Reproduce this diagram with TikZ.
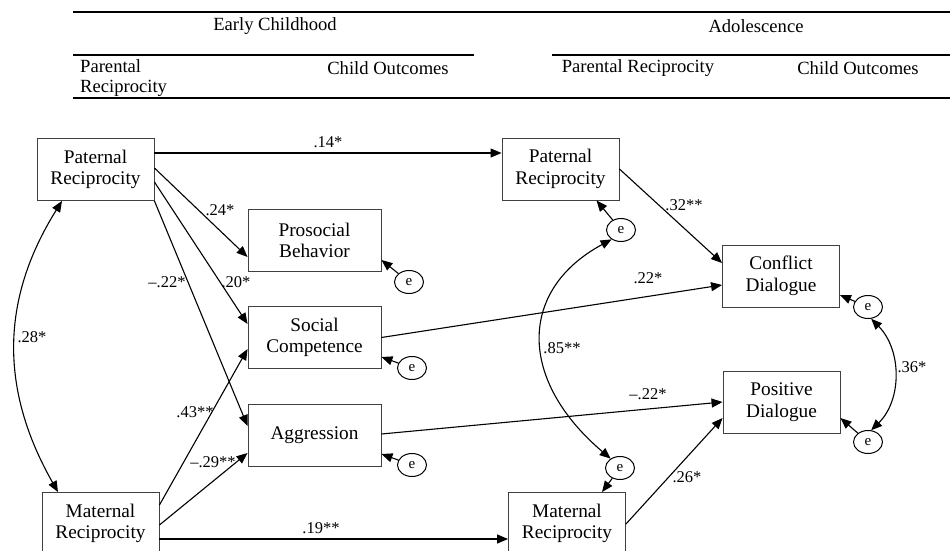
\documentclass[tikz,border=0pt]{standalone}
\usepackage{fontspec}
\setmainfont{Liberation Serif}
\usetikzlibrary{arrows.meta,shapes.geometric,calc}
\begin{document}
\begin{tikzpicture}[x=1pt,y=-1pt,
 box/.style={draw=black!75,line width=0.9pt,minimum width=117pt,minimum height=62pt,inner sep=0pt,align=center,font=\fontsize{19.3}{21.5}\selectfont},
 wbox/.style={box,minimum width=133pt},
 err/.style={draw,ellipse,line width=1pt,minimum width=29pt,minimum height=23pt,inner sep=0pt,font=\fontsize{15}{15}\selectfont},
 arr/.style={line width=1.1pt,-{Triangle[length=11pt,width=9pt]}},
 darr/.style={line width=1.1pt,{Triangle[length=11pt,width=9pt]}-{Triangle[length=11pt,width=9pt]}},
 lab/.style={font=\fontsize{16.5}{16.5}\selectfont,inner sep=0pt},
 hdr/.style={font=\fontsize{18.6}{20}\selectfont,inner sep=0pt},
 hrule/.style={line width=1.1pt}]
\useasboundingbox (0,0) rectangle (950,551);
\clip (0,0) rectangle (950,551);

% header
\draw[hrule] (73,12) -- (950,12);
\draw[hrule] (73,55) -- (474,55);
\draw[hrule] (552,55) -- (950,55);
\draw[hrule] (73,98) -- (950,98);
\node[hdr] (hEC) at (275,26) {Early Childhood};
\node[hdr] (hAD) at (756,26) {Adolescence};
\node[hdr,anchor=west,align=left] (hPR1) at (80,78) {Parental\\Reciprocity};
\node[hdr] (hCO1) at (388,68) {Child Outcomes};
\node[hdr] (hPR2) at (638,68) {Parental Reciprocity};
\node[hdr] (hCO2) at (858,68) {Child Outcomes};

% boxes
\node[box] (PatE) at (95.5,169.5) {Paternal\\Reciprocity};
\node[wbox] (Pro) at (314.5,240.5) {Prosocial\\Behavior};
\node[wbox] (Soc) at (314.5,337.5) {Social\\Competence};
\node[wbox] (Agg) at (314.5,435) {Aggression};
\node[box] (MatE) at (100.5,523.5) {Maternal\\Reciprocity};
\node[box] (PatA) at (560.5,169) {Paternal\\Reciprocity};
\node[box] (Con) at (781,276) {Conflict\\Dialogue};
\node[box] (Pos) at (781.5,402) {Positive\\Dialogue};
\node[box] (MatA) at (567,523.5) {Maternal\\Reciprocity};

% error terms
\node[err] (eP) at (409,282) {e};
\node[err] (eS) at (412,368) {e};
\node[err] (eA) at (412,465) {e};
\node[err] (ePA) at (621,230) {e};
\node[err] (eMA) at (620,468) {e};
\node[err] (eC) at (868,307) {e};
\node[err] (ePD) at (868,442) {e};

% error arrows
\draw[arr] (eP) -- ([yshift=-19.5pt]Pro.east);
\draw[arr] (eS) -- ([yshift=-19.5pt]Soc.east);
\draw[arr] (eA) -- ([yshift=-19pt]Agg.east);
\draw[arr] (ePA) -- ([xshift=36pt]PatA.south);
\draw[arr] (eMA) -- ([xshift=35pt]MatA.north);
\draw[arr] (eC) -- ([yshift=-19pt]Con.east);
\draw[arr] (ePD) -- ([yshift=-16pt]Pos.east);

% paths
\draw[arr] ([yshift=16.5pt]PatE.east) -- node[lab,above=5pt,pos=0.5] (l14) {.14*} ([yshift=16pt]PatA.west);
\draw[arr] ([yshift=1.5pt]PatE.east) -- ([yshift=-16.5pt]Pro.west);
\draw[arr] ([yshift=-12.5pt]PatE.east) -- ([yshift=13.5pt]Soc.west);
\draw[arr] (PatE.south east) -- ([yshift=9pt]Agg.west);
\draw[arr] ([yshift=18.5pt]MatE.east) -- ([yshift=-11.5pt]Soc.west);
\draw[arr] ([yshift=-1.5pt]MatE.east) -- ([yshift=-18pt]Agg.west);
\draw[arr] ([yshift=-15.5pt]MatE.east) -- ([yshift=-15.5pt]MatA.west);
\draw[arr] (PatA.east) -- ([yshift=13pt]Con.west);
\draw[arr] (Soc.east) -- ([yshift=-9pt]Con.west);
\draw[arr] ([yshift=1pt]Agg.east) -- (Pos.west);
\draw[arr] ([yshift=-0.5pt]MatA.east) -- ([yshift=-16pt]Pos.west);

% covariances
\draw[darr] ([xshift=-33.5pt]PatE.south) .. controls (0,300) and (0,390) .. ([xshift=-42.5pt]MatE.north);
\draw[darr] (ePA.225) .. controls (518,290) and (518,380) .. (eMA.135);
\draw[darr] (eC.-75) .. controls (902,350) and (902,400) .. (ePD.75);

% labels
\node[lab] (l24) at (220,210) {.24*};
\node[lab] (l20) at (236,282) {.20*};
\node[lab] (l22a) at (167,282) {–.22*};
\node[lab] (l43) at (195,412) {.43**};
\node[lab] (l29) at (213,462) {–.29**};
\node[lab] (l19) at (321,528) {.19**};
\node[lab] (l28) at (32,337) {.28*};
\node[lab] (l32) at (684,205) {.32**};
\node[lab] (l22b) at (648,278) {.22*};
\node[lab] (l22c) at (648,394) {–.22*};
\node[lab] (l85) at (562,348) {.85**};
\node[lab] (l26) at (687,477) {.26*};
\node[lab] (l36) at (912,367) {.36*};
\end{tikzpicture}
\end{document}
